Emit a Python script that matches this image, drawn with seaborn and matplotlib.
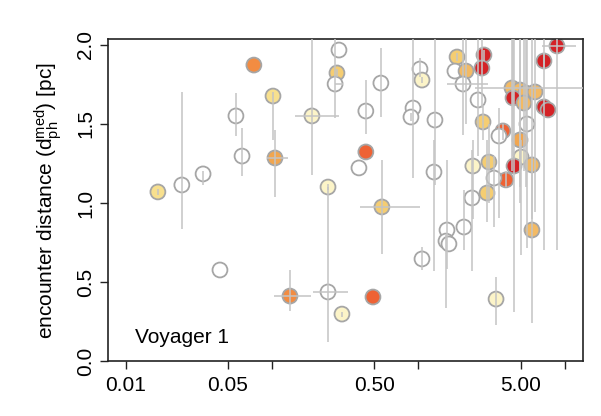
"""
Voyager 1 stellar encounters: encounter distance vs. time, with error bars
"""
# %% Import libraries
import numpy as np
import pandas as pd
import seaborn as sns
import matplotlib
matplotlib.use('Agg')
import matplotlib.pyplot as plt
from matplotlib.ticker import NullLocator

sns.set_style('ticks')
plt.rcParams['font.family'] = ['Liberation Sans', 'DejaVu Sans']
plt.rcParams['mathtext.default'] = 'regular'
plt.rcParams['text.color'] = 'black'
plt.rcParams['axes.labelcolor'] = 'black'
plt.rcParams['xtick.color'] = 'black'
plt.rcParams['ytick.color'] = 'black'

# %% Data (x: time, y: encounter distance in pc)
x_val = [0.0166, 0.0242, 0.0338, 0.0441, 0.0567, 0.0624, 0.0752, 0.1016, 0.1048, 0.1327,
         0.1875, 0.2415, 0.2415, 0.3008, 0.287, 0.278, 0.270, 0.438, 0.555, 0.438,
         0.393, 0.564, 0.490, 1.027, 1.06, 0.920, 0.891, 1.30, 1.28, 1.06,
         1.571, 1.546, 1.62, 2.05, 2.33, 2.95, 3.40, 5.98, 1.84, 1.78,
         2.12, 2.02, 2.81, 2.72, 2.56, 2.77, 3.79, 3.56, 8.87, 7.23,
         7.23, 7.70, 4.37, 4.96, 5.45, 6.28, 4.44, 5.27, 5.53, 4.96,
         5.04, 4.51, 5.98, 3.97, 3.29, 2.36, 3.04]
y_val = [1.070, 1.114, 1.184, 0.576, 1.551, 1.297, 1.873, 1.677, 1.285, 0.411,
         1.551, 1.101, 0.437, 0.297, 1.968, 1.823, 1.753, 1.582, 1.759, 1.323,
         1.222, 0.975, 0.405, 1.848, 1.778, 1.601, 1.544, 1.525, 1.196, 0.646,
         0.829, 0.759, 0.741, 0.848, 1.032, 1.063, 0.392, 0.829, 1.924, 1.835,
         1.835, 1.753, 1.937, 1.854, 1.652, 1.513, 1.456, 1.424, 1.994, 1.899,
         1.608, 1.589, 1.728, 1.715, 1.696, 1.703, 1.665, 1.633, 1.500, 1.399,
         1.291, 1.234, 1.241, 1.146, 1.158, 1.234, 1.259]
# colour class (0 = open circle, 1..8 = light yellow -> dark red)
level = [2, 0, 0, 0, 0, 0, 6, 2, 5, 6,
         1, 1, 0, 1, 0, 3, 0, 0, 0, 7,
         0, 3, 7, 0, 1, 0, 0, 0, 0, 0,
         0, 0, 0, 0, 0, 3, 1, 4, 3, 0,
         4, 0, 8, 8, 0, 3, 7, 0, 8, 8,
         8, 8, 4, 4, 4, 4, 8, 4, 0, 5,
         1, 8, 4, 7, 0, 1, 3]

# error bar limits (None = no bar)
y_lo = [1.05, 0.835, 1.114, None, 1.424, 1.171, None, 1.40, 1.038, 0.316,
        1.177, 1.08, 0.120, 0.28, None, 1.80, 1.538, 1.437, 1.544, None,
        None, 0.677, None, 1.797, 1.76, 1.158, 1.52, 1.114, 0.570, 0.576,
        0.582, 0.335, None, 0.703, 0.570, 0.880, 0.228, 0.241, 1.90, None,
        1.50, 1.430, 1.90, 1.60, 1.30, 1.40, 1.40, 0.905, 0.703, 1.85,
        0.703, None, 1.20, 1.00, 1.10, 0.943, 1.30, 1.20, 0.715, 1.10,
        0.671, 0.310, 0.90, 1.10, 0.848, 0.90, 1.00]
y_hi = [1.09, 1.70, 1.20, None, 1.696, 1.475, None, 1.70, 1.462, 0.576,
        2.2, 1.12, 1.10, 0.31, None, 1.85, 2.2, 1.778, 1.981, None,
        None, 1.272, None, 1.918, 1.80, 2.2, 1.57, 2.2, 1.40, 0.722,
        1.272, 0.80, None, 1.082, 1.335, 1.40, 0.532, 1.272, 1.95, None,
        2.2, 2.2, 1.97, 2.2, 2.2, 1.62, 1.50, 1.60, 2.2, 1.95,
        2.2, None, 2.2, 2.2, 2.2, 2.2, 2.2, 2.2, 2.2, 2.2,
        1.40, 2.2, 2.2, 1.20, 1.30, 1.40, 1.50]
x_lo = {8: 0.0924, 9: 0.1031, 10: 0.1436, 12: 0.1904, 16: 0.270, 21: 0.399,
        41: 1.57, 48: 7.01, 52: 2.44}
x_hi = {8: 0.1285, 9: 0.1846, 10: 0.287, 12: 0.330, 16: 0.305, 21: 1.027,
        41: 2.99, 48: 11.97, 52: 13.4}

level_colors = {0: '#ffffff', 1: '#fcf4c8', 2: '#f8e08e', 3: '#f5cd72',
                4: '#f3ba64', 5: '#f1a650', 6: '#f28c42', 7: '#ee6234',
                8: '#d42226'}

# %% Build table
x = np.array(x_val)
y = np.array(y_val)
ylo = np.array([v if v is not None else y[i] for i, v in enumerate(y_lo)])
yhi = np.array([v if v is not None else y[i] for i, v in enumerate(y_hi)])
xlo = np.array([x_lo.get(i, x[i]) for i in range(len(x))])
xhi = np.array([x_hi.get(i, x[i]) for i in range(len(x))])

df = pd.DataFrame({'x': x, 'y': y, 'level': level})

# %% Plot
fig = plt.figure(figsize=(6.01, 4.16), dpi=100)
ax = fig.add_axes([108 / 601, 1 - 361 / 416, 475 / 601, 321.7 / 416])

sns.scatterplot(data=df, x='x', y='y', hue='level', palette=level_colors,
                s=115, edgecolor='#a6a6a6', linewidth=1.3, legend=False,
                ax=ax, zorder=2)
ax.errorbar(x, y, xerr=[x - xlo, xhi - x], yerr=[y - ylo, yhi - y],
            fmt='none', ecolor='#c4c4c4', elinewidth=1.1, capsize=0, zorder=3)

ax.set_xscale('log')
ax.set_xlim(0.00757, 13.36)
ax.set_ylim(0, 2.036)
ax.set_xticks([0.01, 0.05, 0.1, 0.5, 1, 5, 10])
ax.set_xticklabels(['0.01', '0.05', '', '0.50', '', '5.00', ''])
ax.xaxis.set_minor_locator(NullLocator())
ax.set_yticks([0, 0.5, 1.0, 1.5, 2.0])
ax.set_yticklabels(['0.0', '0.5', '1.0', '1.5', '2.0'])
for lab in ax.get_yticklabels():
    lab.set_rotation(90)
    lab.set_va('center')

ax.tick_params(axis='both', length=6, width=1, labelsize=15,
               color='#222222', pad=3)
ax.tick_params(axis='x', pad=5)
for sp in ax.spines.values():
    sp.set_visible(True)
    sp.set_linewidth(1.2)
    sp.set_color('#222222')

ax.set_xlabel('')
ax.set_ylabel('encounter distance (d$_{ph}^{med}$) [pc]', fontsize=15,
              labelpad=9)
ax.text(0.057, 0.056, 'Voyager 1', transform=ax.transAxes, fontsize=15,
        va='baseline')

fig.savefig('out.png', dpi=100)
